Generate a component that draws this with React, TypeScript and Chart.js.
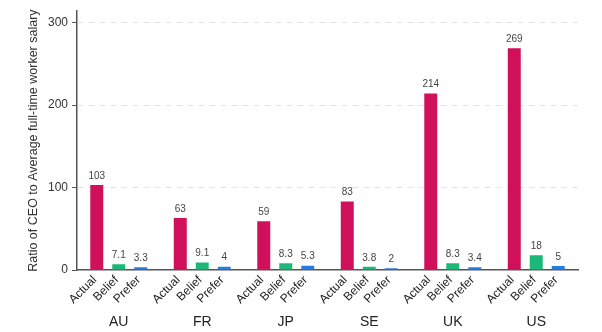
import React, { useEffect, useRef } from "react";
import { Chart, registerables } from "chart.js";

Chart.register(...registerables);

const countries = ["AU", "FR", "JP", "SE", "UK", "US"];
const seriesNames = ["Actual", "Belief", "Prefer"];
const actualValues = [103, 63, 59, 83, 214, 269];
const beliefValues = [7.1, 9.1, 8.3, 3.8, 8.3, 18];
const preferValues = [3.3, 4, 5.3, 2, 3.4, 5];
const yTickValues = [0, 100, 200, 300];
const seriesColors = ["#D0105A", "#1CB87A", "#2A7DE0"];
const yTitle = "Ratio of CEO to Average full-time worker salary";

const FONT = "'Liberation Sans', Arial, sans-serif";

const labelPlugin = {
  id: "barLabels",
  afterDatasetsDraw(chart: any) {
    const ctx = chart.ctx;
    ctx.save();
    const baseY = chart.scales.y.getPixelForValue(0);
    chart.data.datasets.forEach((ds: any, di: number) => {
      const meta = chart.getDatasetMeta(di);
      meta.data.forEach((bar: any, i: number) => {
        const v = ds.data[i];
        ctx.fillStyle = "#444";
        ctx.font = `10px ${FONT}`;
        ctx.textAlign = "center";
        ctx.textBaseline = "bottom";
        ctx.fillText(String(v), bar.x, bar.y - 4);
        ctx.save();
        ctx.translate(bar.x - 2, baseY + 8);
        ctx.rotate(-Math.PI / 4);
        ctx.font = `12px ${FONT}`;
        ctx.fillStyle = "#222";
        ctx.textAlign = "right";
        ctx.textBaseline = "middle";
        ctx.fillText(seriesNames[di], 0, 0);
        ctx.restore();
      });
    });
    ctx.restore();
  },
};

export default function App() {
  const ref = useRef<HTMLCanvasElement>(null);
  useEffect(() => {
    const chart = new Chart(ref.current as HTMLCanvasElement, {
      type: "bar",
      data: {
        labels: countries,
        datasets: [actualValues, beliefValues, preferValues].map((d, i) => ({
          label: seriesNames[i],
          data: d,
          backgroundColor: seriesColors[i],
          categoryPercentage: 0.79,
          barPercentage: 0.59,
        })),
      },
      options: {
        responsive: false,
        animation: false,
        layout: { padding: { left: 0, right: 24, top: 7, bottom: 0 } },
        plugins: { legend: { display: false }, tooltip: { enabled: false } },
        scales: {
          x: {
            grid: { display: false, drawTicks: false },
            border: { display: true, color: "#555", width: 1.5 },
            ticks: {
              padding: 44,
              color: "#222",
              font: { family: FONT, size: 14 },
              maxRotation: 0,
            },
            afterFit(scale: any) {
              scale.height = 62;
            },
          },
          y: {
            min: 0,
            max: 314,
            afterBuildTicks(scale: any) {
              scale.ticks = yTickValues.map((v) => ({ value: v }));
            },
            ticks: {
              padding: 4,
              color: "#333",
              font: { family: FONT, size: 12 },
            },
            grid: {
              color: (c: any) => (c.tick && c.tick.value === 0 ? "rgba(0,0,0,0)" : "#e4e4e4"),
              tickLength: 5,
              tickColor: "#555",
              tickBorderDash: [],
            } as any,
            border: { display: true, color: "#555", width: 1.5, dash: [6, 5] },
            title: {
              display: true,
              text: yTitle,
              color: "#333",
              font: { family: FONT, size: 12.5 },
              padding: { top: 26, bottom: 0 },
            },
            afterFit(scale: any) {
              scale.width = 77;
            },
          },
        },
      },
      plugins: [labelPlugin],
    } as any);
    return () => chart.destroy();
  }, []);
  return (
    <div style={{ position: "fixed", left: 0, top: 0, width: 602, height: 332, background: "#fff" }}>
      <canvas ref={ref} width={602} height={332} style={{ display: "block" }} />
    </div>
  );
}
